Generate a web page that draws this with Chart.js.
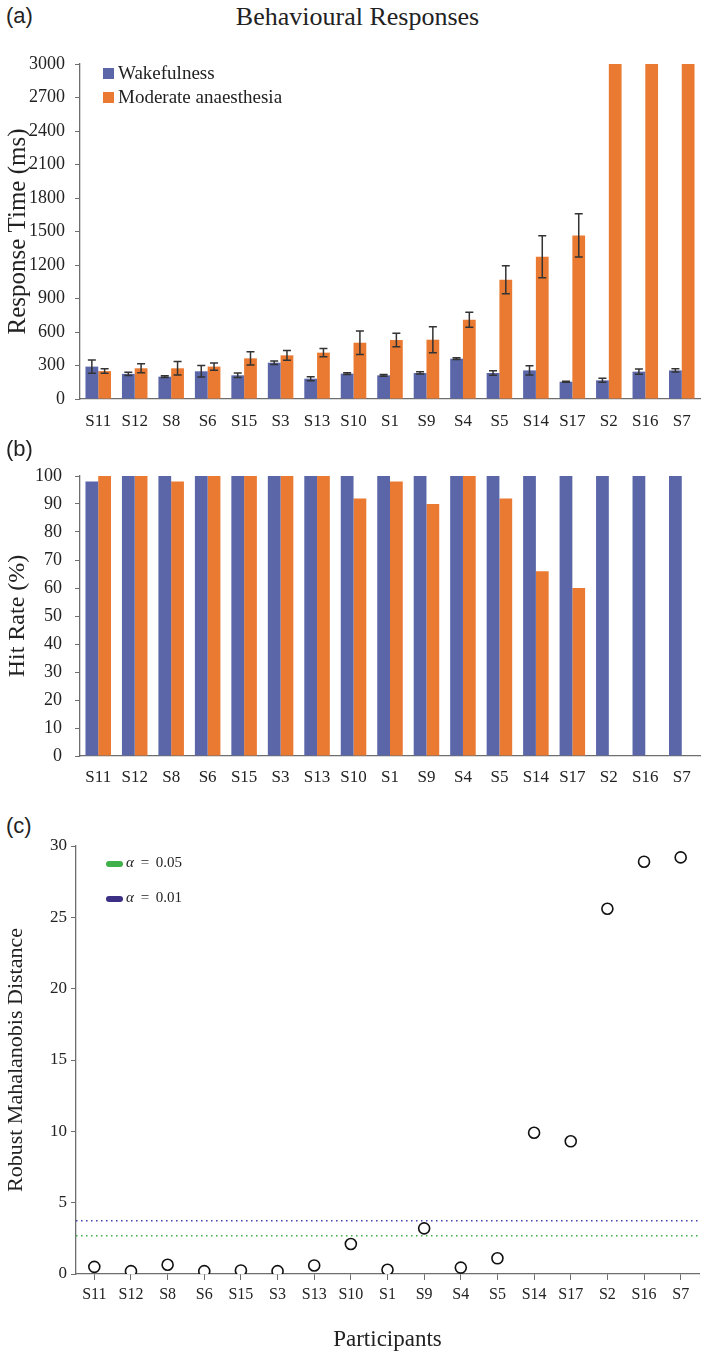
<!DOCTYPE html>
<html lang="en">
<head>
    <meta charset="UTF-8">
    <title>Behavioural Responses</title>
    <script src="https://cdn.jsdelivr.net/npm/chart.js"></script>
    <style>
        body {
            margin: 0;
            background: #fff;
            font-family: 'Liberation Serif', serif;
        }
        #page {
            position: relative;
            width: 709px;
            height: 1354px;
        }
        .panel {
            position: absolute;
            left: 0;
            width: 709px;
        }
        .tag {
            position: absolute;
            left: 6px;
            font-family: 'Liberation Sans', sans-serif;
            font-size: 22px;
            color: #222;
        }
        .title {
            position: absolute;
            top: 2px;
            left: 0;
            width: 709px;
            text-align: center;
            font-size: 26px;
            color: #222;
            padding-left: 6px;
            box-sizing: border-box;
        }
        .leg {
            position: absolute;
            font-size: 19px;
            color: #222;
            line-height: 20px;
            white-space: nowrap;
        }
        .leg span {
            display: inline-block;
            width: 11px;
            height: 11px;
            margin-right: 4px;
        }
        .alpha {
            position: absolute;
            font-size: 15px;
            color: #222;
            line-height: 16px;
            white-space: nowrap;
            word-spacing: 3px;
        }
        .alpha span {
            display: inline-block;
            width: 17px;
            height: 6px;
            border-radius: 3px;
            margin-right: 3px;
            vertical-align: middle;
        }
    </style>
</head>
<body>
<div id="page">
    <div class="tag" style="top:3px">(a)</div>
    <div class="title">Behavioural Responses</div>
    <div class="panel" style="top:0;height:440px"><canvas id="rtChart"></canvas></div>
    <div class="leg" style="left:103px;top:63px"><span style="background:#5a66a8"></span>Wakefulness</div>
    <div class="leg" style="left:103px;top:87px"><span style="background:#ea7a31"></span>Moderate anaesthesia</div>

    <div class="tag" style="top:436px">(b)</div>
    <div class="panel" style="top:440px;height:350px"><canvas id="hitChart"></canvas></div>

    <div class="tag" style="top:813px">(c)</div>
    <div class="panel" style="top:790px;height:564px"><canvas id="mdChart"></canvas></div>
    <div class="alpha" style="left:106px;top:854px"><span style="background:#3fb04a"></span><i>α</i> = 0.05</div>
    <div class="alpha" style="left:106px;top:889px"><span style="background:#3b2f86"></span><i>α</i> = 0.01</div>
</div>

<script>
    // participants, sorted by anaesthesia response time
    const participants = ['S11', 'S12', 'S8', 'S6', 'S15', 'S3', 'S13', 'S10', 'S1', 'S9', 'S4', 'S5', 'S14', 'S17', 'S2', 'S16', 'S7'];

    // (a) response times (ms) and error bars
    const wakeRT = [290, 225, 200, 248, 212, 325, 182, 227, 212, 233, 361, 233, 256, 155, 167, 245, 256];
    const wakeErr = [60, 15, 8, 52, 20, 15, 18, 8, 8, 10, 8, 20, 42, 5, 18, 24, 15];
    const anaesRT = [250, 275, 275, 290, 364, 391, 415, 504, 528, 531, 710, 1068, 1274, 1465, 3000, 3000, 3000];
    const anaesErr = [20, 40, 60, 33, 60, 43, 37, 105, 61, 116, 67, 125, 188, 194, null, null, null];

    // (b) hit rate (%)
    const wakeHit = [98, 100, 100, 100, 100, 100, 100, 100, 100, 100, 100, 100, 100, 100, 100, 100, 100];
    const anaesHit = [100, 100, 98, 100, 100, 100, 100, 92, 98, 90, 100, 92, 66, 60, null, null, null];

    // (c) robust Mahalanobis distance + thresholds
    const mahal = [0.5, 0.2, 0.65, 0.2, 0.25, 0.2, 0.6, 2.1, 0.3, 3.2, 0.45, 1.1, 9.9, 9.3, 25.6, 28.9, 29.2];
    const cutoff05 = 2.68;
    const cutoff01 = 3.74;

    const blue = '#5a66a8';
    const orange = '#ea7a31';
    const axisCol = '#6e6e6e';
    const serif = 'Liberation Serif';

    const errorBars = {
        id: 'errorBars',
        afterDatasetsDraw(chart) {
            const ctx = chart.ctx;
            const y = chart.scales.y;
            [[0, wakeRT, wakeErr], [1, anaesRT, anaesErr]].forEach(([di, vals, errs]) => {
                const meta = chart.getDatasetMeta(di);
                meta.data.forEach((bar, i) => {
                    if (errs[i] == null) return;
                    const top = y.getPixelForValue(vals[i] + errs[i]);
                    const bot = y.getPixelForValue(vals[i] - errs[i]);
                    ctx.save();
                    ctx.strokeStyle = '#333';
                    ctx.lineWidth = 1.5;
                    ctx.beginPath();
                    ctx.moveTo(bar.x, top); ctx.lineTo(bar.x, bot);
                    ctx.moveTo(bar.x - 4, top); ctx.lineTo(bar.x + 4, top);
                    ctx.moveTo(bar.x - 4, bot); ctx.lineTo(bar.x + 4, bot);
                    ctx.stroke();
                    ctx.restore();
                });
            });
        }
    };

    const cutoffLines = {
        id: 'cutoffLines',
        beforeDatasetsDraw(chart) {
            const ctx = chart.ctx;
            const area = chart.chartArea;
            const y = chart.scales.y;
            [[cutoff01, '#4040b0'], [cutoff05, '#3fb04a']].forEach(([v, col]) => {
                const py = y.getPixelForValue(v);
                ctx.save();
                ctx.strokeStyle = col;
                ctx.lineWidth = 1.5;
                ctx.setLineDash([1.5, 3.5]);
                ctx.beginPath();
                ctx.moveTo(area.left, py);
                ctx.lineTo(area.right, py);
                ctx.stroke();
                ctx.restore();
            });
        }
    };

    const yAxis = (max, step, title, width, size, titleSize, pad) => ({
        min: 0, max: max,
        ticks: { stepSize: step, color: '#222', font: { family: serif, size: size }, padding: pad, callback: v => String(v) },
        grid: { drawOnChartArea: false, drawTicks: true, tickLength: 5, color: axisCol },
        border: { color: axisCol, width: 1.3 },
        title: { display: true, text: title, color: '#222', font: { family: serif, size: titleSize }, padding: { top: 3, bottom: 4 } },
        afterFit: s => { s.width = width; }
    });

    const xBarAxis = (height, pad) => ({
        offset: true,
        ticks: { color: '#222', font: { family: serif, size: 17 }, padding: pad, maxRotation: 0, autoSkip: false },
        grid: { display: false, drawTicks: false },
        border: { color: axisCol, width: 1.3 },
        afterFit: s => { s.height = height; }
    });

    const common = {
        responsive: true,
        maintainAspectRatio: false,
        animation: false,
        plugins: { legend: { display: false }, tooltip: { enabled: false } }
    };

    new Chart(document.getElementById('rtChart'), {
        type: 'bar',
        data: {
            labels: participants,
            datasets: [
                { label: 'Wakefulness', data: wakeRT, backgroundColor: blue, categoryPercentage: 0.7, barPercentage: 1 },
                { label: 'Moderate anaesthesia', data: anaesRT, backgroundColor: orange, categoryPercentage: 0.7, barPercentage: 1 }
            ]
        },
        options: {
            ...common,
            layout: { padding: { top: 64, right: 9, left: 0, bottom: 0 } },
            scales: {
                x: xBarAxis(41, 12),
                y: yAxis(3000, 300, 'Response Time (ms)', 80, 18, 25, 10)
            }
        },
        plugins: [errorBars]
    });

    new Chart(document.getElementById('hitChart'), {
        type: 'bar',
        data: {
            labels: participants,
            datasets: [
                { label: 'Wakefulness', data: wakeHit, backgroundColor: blue, categoryPercentage: 0.7, barPercentage: 1 },
                { label: 'Moderate anaesthesia', data: anaesHit, backgroundColor: orange, categoryPercentage: 0.7, barPercentage: 1 }
            ]
        },
        options: {
            ...common,
            layout: { padding: { top: 36, right: 9, left: 0, bottom: 0 } },
            scales: {
                x: xBarAxis(34, 11),
                y: yAxis(100, 10, 'Hit Rate (%)', 80, 18, 24, 13)
            }
        }
    });

    new Chart(document.getElementById('mdChart'), {
        type: 'line',
        data: {
            labels: participants,
            datasets: [{
                label: 'Robust Mahalanobis Distance',
                data: mahal,
                showLine: false,
                pointRadius: 5.5,
                pointBorderWidth: 1.6,
                pointBorderColor: '#111',
                pointBackgroundColor: '#fff'
            }]
        },
        options: {
            ...common,
            layout: { padding: { top: 56, right: 10, left: 0, bottom: 0 } },
            scales: {
                x: {
                    offset: true,
                    ticks: { color: '#222', font: { family: serif, size: 16 }, padding: 5, maxRotation: 0, autoSkip: false },
                    grid: { drawOnChartArea: false, drawTicks: true, tickLength: 6, color: axisCol },
                    border: { color: axisCol, width: 1.3 },
                    title: { display: true, text: 'Participants', color: '#222', font: { family: serif, size: 23 }, padding: { top: 18, bottom: 0 } },
                    afterFit: s => { s.height = 80; }
                },
                y: yAxis(30, 5, 'Robust Mahalanobis Distance', 76, 17, 22, 4)
            }
        },
        plugins: [cutoffLines]
    });
</script>
</body>
</html>
